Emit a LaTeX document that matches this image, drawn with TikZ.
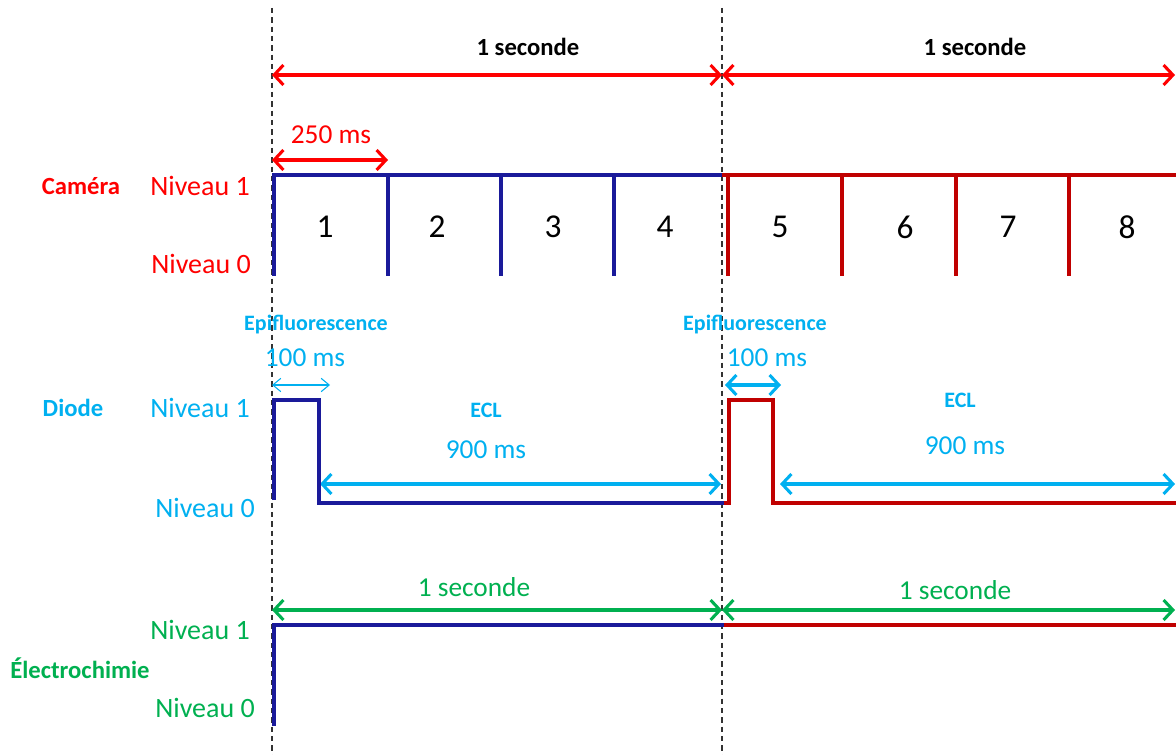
\documentclass[tikz,border=0pt]{standalone}
\usepackage{fontspec}
\setmainfont{Carlito}
\usetikzlibrary{arrows.meta}
\definecolor{rouge}{HTML}{FF0000}
\definecolor{rougesig}{HTML}{C00000}
\definecolor{bleusig}{HTML}{1A1A9A}
\definecolor{ciel}{HTML}{00B0F0}
\definecolor{vert}{HTML}{00B050}
\tikzset{
  lvl/.style={anchor=east,inner sep=0pt,font=\fontsize{21}{25}\selectfont},
  ttl/.style={inner sep=0pt,font=\bfseries\fontsize{18.5}{22}\selectfont},
  small/.style={inner sep=0pt,font=\bfseries\fontsize{16.5}{20}\selectfont},
  lab/.style={inner sep=0pt,font=\fontsize{20.5}{24}\selectfont},
  num/.style={inner sep=0pt,font=\fontsize{25}{30}\selectfont},
  sig/.style={line width=2.6pt,line join=miter,line cap=butt},
  dim/.style={line width=2.3pt,{Straight Barb[length=7pt,width=15pt]}-{Straight Barb[length=7pt,width=15pt]}},
  dimthin/.style={line width=0.8pt,{Straight Barb[length=6pt,width=10pt]}-{Straight Barb[length=6pt,width=10pt]}},
  guide/.style={line width=0.8pt,black!80,dash pattern=on 4pt off 3pt}
}
\begin{document}
\begin{tikzpicture}[x=0.75pt,y=-0.75pt]
\useasboundingbox (0,0) rectangle (1176,755);
% repères
\draw[guide] (272,8) -- (272,755);
\draw[guide] (722,8) -- (722,755);
% caméra
\coordinate (s0) at (272,75); \coordinate (s1) at (722,75); \coordinate (s2) at (1175,75);
\node[ttl] (sec1) at (528,47) {1 seconde};
\node[ttl] (sec2) at (975,47) {1 seconde};
\draw[dim,rouge] (s0) -- (s1);
\draw[dim,rouge] (s1) -- (s2);
\coordinate (q0) at (272,160); \coordinate (q1) at (388,160);
\node[lab,text=rouge] (quart) at (331,135) {250 ms};
\draw[dim,rouge] (q0) -- (q1);
\node[ttl,text=rouge] (cam) at (81,186) {Caméra};
\node[lvl,text=rouge] (camh) at (250,186) {Niveau 1};
\node[lvl,text=rouge] (camb) at (251,264) {Niveau 0};
\draw[sig,bleusig] (274,276) -- (274,175) -- (722,175);
\foreach \x in {388,501,614}{\draw[sig,bleusig] (\x,175) -- (\x,276);}
\draw[sig,rougesig] (722,175) -- (1176,175);
\foreach \x in {728,842,956,1069}{\draw[sig,rougesig] (\x,175) -- (\x,276);}
\foreach \n/\x in {1/325,2/437,3/553,4/665,5/780,6/905,7/1008,8/1127}{\node[num] (img\n) at (\x,227) {\n};}
% diode
\node[small,text=ciel] (epi1) at (316,325) {Epifluorescence};
\node[small,text=ciel] (epi2) at (755,325) {Epifluorescence};
\node[lab,text=ciel] (cent1) at (305,358) {100 ms};
\node[lab,text=ciel] (cent2) at (767,358) {100 ms};
\coordinate (e0) at (272,385); \coordinate (e1) at (330,385);
\coordinate (e2) at (725,385); \coordinate (e3) at (781,385);
\draw[dimthin,ciel] (e0) -- (e1);
\draw[dim,ciel] (e2) -- (e3);
\node[ttl,text=ciel] (dio) at (73,408) {Diode};
\node[lvl,text=ciel] (dioh) at (250,408) {Niveau 1};
\node[lvl,text=ciel] (diob) at (255,508) {Niveau 0};
\node[small,text=ciel] (ecl1) at (486,410) {ECL};
\node[small,text=ciel] (ecl2) at (960,400) {ECL};
\node[lab,text=ciel] (neuf1) at (486,450) {900 ms};
\node[lab,text=ciel] (neuf2) at (965,446) {900 ms};
\coordinate (c0) at (320,484); \coordinate (c1) at (721,484);
\coordinate (c2) at (780,484); \coordinate (c3) at (1175,484);
\draw[dim,ciel] (c0) -- (c1);
\draw[dim,ciel] (c2) -- (c3);
\draw[sig,bleusig] (274,500) -- (274,400) -- (319,400) -- (319,503) -- (724,503);
\draw[sig,rougesig] (724,503) -- (729,503) -- (729,400) -- (773,400) -- (773,503) -- (1176,503);
% électrochimie
\node[lab,text=vert] (v1) at (474,587) {1 seconde};
\node[lab,text=vert] (v2) at (955,590) {1 seconde};
\coordinate (g0) at (272,610); \coordinate (g1) at (722,610); \coordinate (g2) at (1175,610);
\draw[dim,vert] (g0) -- (g1);
\draw[dim,vert] (g1) -- (g2);
\node[lvl,text=vert] (elh) at (250,630) {Niveau 1};
\node[ttl,text=vert] (elec) at (80,668) {Électrochimie};
\node[lvl,text=vert] (elb) at (255,708) {Niveau 0};
\draw[sig,bleusig] (274,726) -- (274,625) -- (724,625);
\draw[sig,rougesig] (724,625) -- (1176,625);
\end{tikzpicture}
\end{document}
